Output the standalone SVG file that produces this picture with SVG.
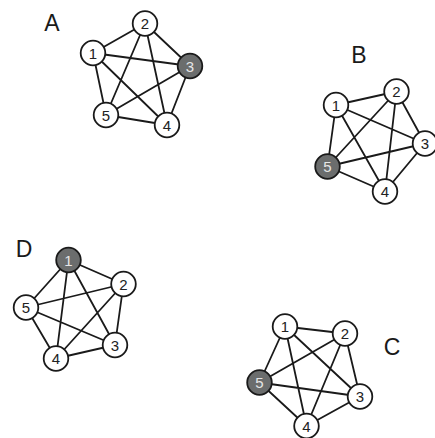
<svg xmlns="http://www.w3.org/2000/svg" width="435" height="438" viewBox="0 0 435 438">
<style>
.e{stroke:#1a1a1a;stroke-width:1.8;fill:none}
.n circle{fill:#fff;stroke:#1a1a1a;stroke-width:1.8}
.n text{font-family:"Liberation Sans",Arial,sans-serif;font-size:15px;fill:#222;text-anchor:middle}
.n.g circle{fill:#6b6d6d}
.n.g text{fill:#e6e6e6}
.lbl{font-family:"Liberation Sans",Arial,sans-serif;font-size:23px;fill:#1a1a1a;text-anchor:middle}
</style>
<rect width="435" height="438" fill="#fff"/>
<text class="lbl" x="52" y="31">A</text>
<text class="lbl" x="359" y="63">B</text>
<text class="lbl" x="24" y="257">D</text>
<text class="lbl" x="392" y="355">C</text>
<g id="connectors">
<path class="e" d="M93,53L145,23.5M93,53L190,66M93,53L106,115M93,53L167,125M145,23.5L106,115M145,23.5L167,125M145,23.5L190,66M190,66L106,115M190,66L167,125M106,115L167,125"/>
<path class="e" d="M336,105L396.5,91.5M336,105L425,143.5M336,105L327.5,166.5M336,105L385,191.5M396.5,91.5L327.5,166.5M396.5,91.5L385,191.5M396.5,91.5L425,143.5M425,143.5L327.5,166.5M425,143.5L385,191.5M327.5,166.5L385,191.5"/>
<path class="e" d="M68.5,260L123.5,284M68.5,260L26,307.5M68.5,260L56,358.5M68.5,260L115,345M123.5,284L26,307.5M123.5,284L56,358.5M123.5,284L115,345M26,307.5L115,345M26,307.5L56,358.5M56,358.5L115,345"/>
<path class="e" d="M285,326.5L345,333.5M285,326.5L259.5,382.5M285,326.5L306.5,426M285,326.5L360,396.5M345,333.5L259.5,382.5M345,333.5L306.5,426M345,333.5L360,396.5M259.5,382.5L360,396.5M259.5,382.5L306.5,426M306.5,426L360,396.5"/>
</g>
<g id="A1" class="n"><circle cx="93" cy="53" r="12.3"/><text x="93" y="58.5">1</text></g>
<g id="A2" class="n"><circle cx="145" cy="23.5" r="12.3"/><text x="145" y="29">2</text></g>
<g id="A3" class="n g"><circle cx="190" cy="66" r="12.3"/><text x="190" y="71.5">3</text></g>
<g id="A4" class="n"><circle cx="167" cy="125" r="12.3"/><text x="167" y="130.5">4</text></g>
<g id="A5" class="n"><circle cx="106" cy="115" r="12.3"/><text x="106" y="120.5">5</text></g>
<g id="B1" class="n"><circle cx="336" cy="105" r="12.3"/><text x="336" y="110.5">1</text></g>
<g id="B2" class="n"><circle cx="396.5" cy="91.5" r="12.3"/><text x="396.5" y="97">2</text></g>
<g id="B3" class="n"><circle cx="425" cy="143.5" r="12.3"/><text x="425" y="149">3</text></g>
<g id="B4" class="n"><circle cx="385" cy="191.5" r="12.3"/><text x="385" y="197">4</text></g>
<g id="B5" class="n g"><circle cx="327.5" cy="166.5" r="12.3"/><text x="327.5" y="172">5</text></g>
<g id="D1" class="n g"><circle cx="68.5" cy="260" r="12.3"/><text x="68.5" y="265.5">1</text></g>
<g id="D2" class="n"><circle cx="123.5" cy="284" r="12.3"/><text x="123.5" y="289.5">2</text></g>
<g id="D3" class="n"><circle cx="115" cy="345" r="12.3"/><text x="115" y="350.5">3</text></g>
<g id="D4" class="n"><circle cx="56" cy="358.5" r="12.3"/><text x="56" y="364">4</text></g>
<g id="D5" class="n"><circle cx="26" cy="307.5" r="12.3"/><text x="26" y="313">5</text></g>
<g id="C1" class="n"><circle cx="285" cy="326.5" r="12.3"/><text x="285" y="332">1</text></g>
<g id="C2" class="n"><circle cx="345" cy="333.5" r="12.3"/><text x="345" y="339">2</text></g>
<g id="C3" class="n"><circle cx="360" cy="396.5" r="12.3"/><text x="360" y="402">3</text></g>
<g id="C4" class="n"><circle cx="306.5" cy="426" r="12.3"/><text x="306.5" y="431.5">4</text></g>
<g id="C5" class="n g"><circle cx="259.5" cy="382.5" r="12.3"/><text x="259.5" y="388">5</text></g>
</svg>
